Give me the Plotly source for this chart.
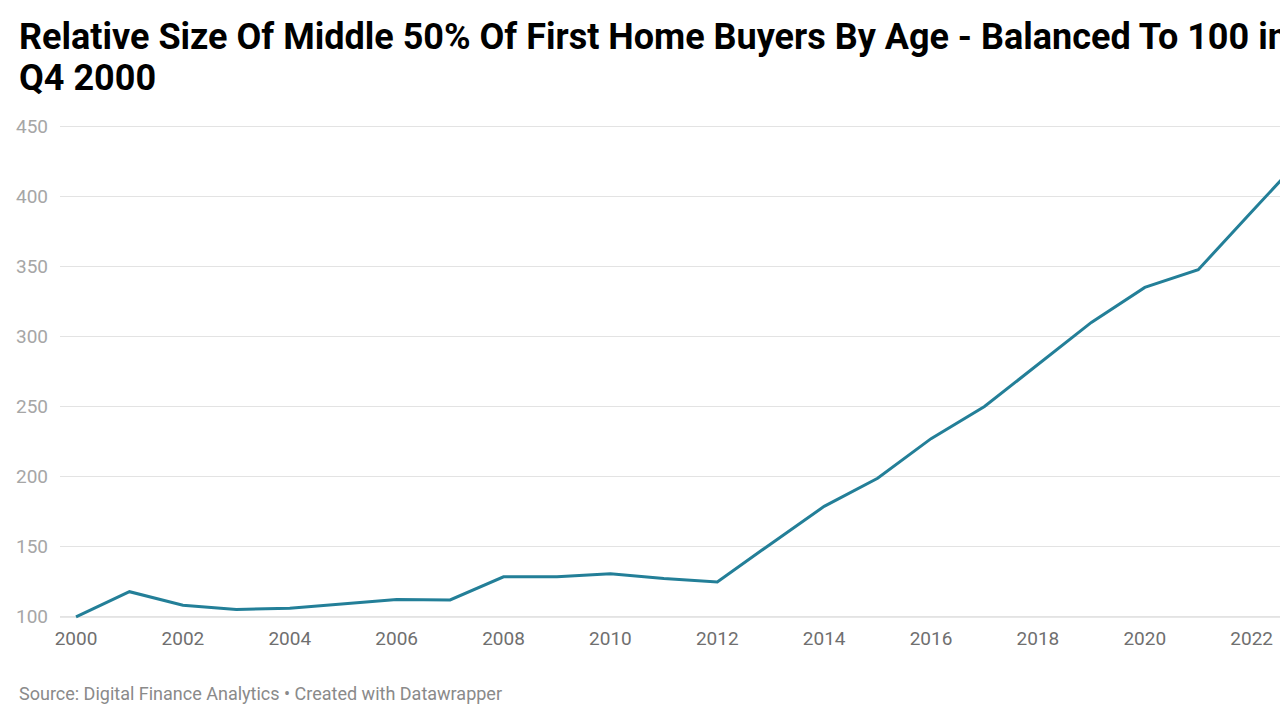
import plotly.graph_objects as go

# Data
years = list(range(2000, 2024))
values = [100, 117.9, 108.3, 105.2, 106.1, 109.0, 112.3, 112.0, 128.5, 128.5,
          130.7, 127.3, 124.8, 152.0, 178.8, 198.8, 227.1, 250.0, 280.0, 310.0,
          335.0, 347.6, 389.0, 430.0]

x_tick_vals = list(range(2000, 2023, 2))
x_tick_text = [str(v) for v in x_tick_vals]
y_tick_vals = [100, 150, 200, 250, 300, 350, 400, 450]
y_tick_text = [str(v) for v in y_tick_vals]

title_line1 = "Relative Size Of Middle 50% Of First Home Buyers By Age - Balanced To 100 in"
title_line2 = "Q4 2000"
source_text = "Source: Digital Finance Analytics • Created with Datawrapper"

LINE_COLOR = "#237f98"
FONT = "Roboto, 'Noto Sans', Arial, sans-serif"

W, H = 1280, 720
ML, MR, MT, MB = 60, 0, 122, 99

fig = go.Figure()
fig.add_trace(go.Scatter(
    x=years, y=values, mode="lines",
    line=dict(color=LINE_COLOR, width=3),
    hoverinfo="x+y", showlegend=False,
))

fig.update_layout(
    width=W, height=H,
    paper_bgcolor="white", plot_bgcolor="white",
    margin=dict(l=ML, r=MR, t=MT, b=MB, autoexpand=False),
    font=dict(family=FONT),
    xaxis=dict(
        range=[1999.70, 2022.53],
        tickvals=x_tick_vals, ticktext=x_tick_text,
        showgrid=False, zeroline=False, showline=False, automargin=False,
        ticks="", tickfont=dict(family=FONT, size=19, color="#6f6f6f"),
        ticklabelstandoff=4,
    ),
    yaxis=dict(
        range=[97, 453],
        tickvals=y_tick_vals, ticktext=y_tick_text,
        showgrid=True, gridcolor="#e3e3e3", gridwidth=1, automargin=False,
        zeroline=False, showline=False, ticks="",
        tickfont=dict(family=FONT, size=19, color="#a6a6a6"),
        ticklabelstandoff=11,
    ),
    shapes=[dict(
        type="line", xref="paper", x0=0, x1=1, yref="y", y0=100, y1=100,
        line=dict(color="#d0d0d0", width=1.5), layer="below",
    )],
)

plot_h = H - MT - MB
plot_w = W - ML - MR

def py_to_paper(py):
    return (H - MB - py) / plot_h

def px_to_paper(px):
    return (px - ML) / plot_w

fig.add_annotation(
    text="<b>" + title_line1 + "</b>", showarrow=False,
    xref="paper", yref="paper", x=px_to_paper(17), xanchor="left",
    y=py_to_paper(37), yanchor="middle",
    font=dict(family=FONT, size=36, color="#000000"),
)
fig.add_annotation(
    text="<b>" + title_line2 + "</b>", showarrow=False,
    xref="paper", yref="paper", x=px_to_paper(17), xanchor="left",
    y=py_to_paper(78), yanchor="middle",
    font=dict(family=FONT, size=36, color="#000000"),
)
fig.add_annotation(
    text=source_text, showarrow=False,
    xref="paper", yref="paper", x=px_to_paper(17), xanchor="left",
    y=py_to_paper(693), yanchor="middle",
    font=dict(family=FONT, size=18, color="#8a8a8a"),
)

fig.write_html(
    "out.html",
    config={"displayModeBar": False},
    post_script="document.body.style.margin='0';document.body.style.overflow='hidden';",
)
